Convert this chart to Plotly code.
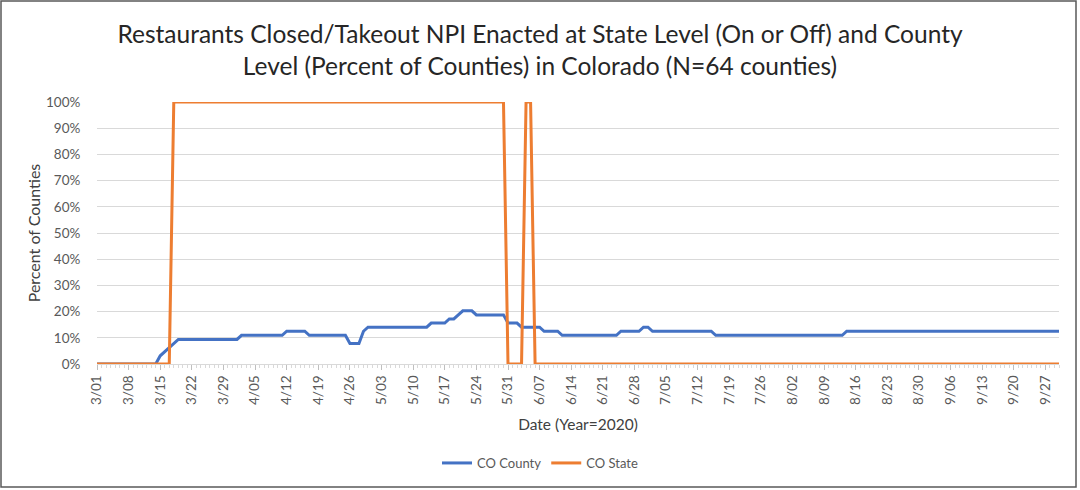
import pandas as pd
import plotly.graph_objects as go

N_COUNTIES = 64
start_date = "2020-03-01"
end_date = "2020-09-30"

# Number of counties (of 64) with the NPI enacted, one value per day, 3/01 .. 9/30
county_counts = [
    0, 0, 0, 0, 0, 0, 0,
    0, 0, 0, 0, 0, 0, 0,
    2, 3, 4, 5, 6, 6, 6,
    6, 6, 6, 6, 6, 6, 6,
    6, 6, 6, 6, 7, 7, 7,
    7, 7, 7, 7, 7, 7, 7,
    8, 8, 8, 8, 8, 7, 7,
    7, 7, 7, 7, 7, 7, 7,
    5, 5, 5, 8, 9, 9, 9,
    9, 9, 9, 9, 9, 9, 9,
    9, 9, 9, 9, 10, 10, 10,
    10, 11, 11, 12, 13, 13, 13,
    12, 12, 12, 12, 12, 12, 12,
    10, 10, 10, 9, 9, 9, 9,
    9, 8, 8, 8, 8, 7, 7,
    7, 7, 7, 7, 7, 7, 7,
    7, 7, 7, 7, 8, 8, 8,
    8, 8, 9, 9, 8, 8, 8,
    8, 8, 8, 8, 8, 8, 8,
    8, 8, 8, 8, 7, 7, 7,
    7, 7, 7, 7, 7, 7, 7,
    7, 7, 7, 7, 7, 7, 7,
    7, 7, 7, 7, 7, 7, 7,
    7, 7, 7, 7, 7, 8, 8,
    8, 8, 8, 8, 8, 8, 8,
    8, 8, 8, 8, 8, 8, 8,
    8, 8, 8, 8, 8, 8, 8,
    8, 8, 8, 8, 8, 8, 8,
    8, 8, 8, 8, 8, 8, 8,
    8, 8, 8, 8, 8, 8, 8,
    8, 8, 8, 8,
]

# State-level NPI (1 = on, 0 = off), one value per day, 3/01 .. 9/30
state_on = [
    0, 0, 0, 0, 0, 0, 0,
    0, 0, 0, 0, 0, 0, 0,
    0, 0, 0, 1, 1, 1, 1,
    1, 1, 1, 1, 1, 1, 1,
    1, 1, 1, 1, 1, 1, 1,
    1, 1, 1, 1, 1, 1, 1,
    1, 1, 1, 1, 1, 1, 1,
    1, 1, 1, 1, 1, 1, 1,
    1, 1, 1, 1, 1, 1, 1,
    1, 1, 1, 1, 1, 1, 1,
    1, 1, 1, 1, 1, 1, 1,
    1, 1, 1, 1, 1, 1, 1,
    1, 1, 1, 1, 1, 1, 1,
    0, 0, 0, 0, 1, 1, 0,
    0, 0, 0, 0, 0, 0, 0,
    0, 0, 0, 0, 0, 0, 0,
    0, 0, 0, 0, 0, 0, 0,
    0, 0, 0, 0, 0, 0, 0,
    0, 0, 0, 0, 0, 0, 0,
    0, 0, 0, 0, 0, 0, 0,
    0, 0, 0, 0, 0, 0, 0,
    0, 0, 0, 0, 0, 0, 0,
    0, 0, 0, 0, 0, 0, 0,
    0, 0, 0, 0, 0, 0, 0,
    0, 0, 0, 0, 0, 0, 0,
    0, 0, 0, 0, 0, 0, 0,
    0, 0, 0, 0, 0, 0, 0,
    0, 0, 0, 0, 0, 0, 0,
    0, 0, 0, 0, 0, 0, 0,
    0, 0, 0, 0, 0, 0, 0,
    0, 0, 0, 0,
]

dates = pd.date_range(start_date, end_date, freq="D")
county_pct = [c / N_COUNTIES for c in county_counts]

FONT = "Lato"
DAY_MS = 86400000

fig = go.Figure()
fig.add_trace(go.Scatter(
    x=dates, y=county_pct, mode="lines", name="CO County",
    line=dict(color="#4472C4", width=3),
))
fig.add_trace(go.Scatter(
    x=dates, y=state_on, mode="lines", name="CO State",
    line=dict(color="#ED7D31", width=3),
))

W, H = 1080, 490
L, R, T, B = 97, 21, 102, 126
pw, ph = W - L - R, H - T - B


def px_x(px):
    return (px - L) / pw


def px_y(py):
    return (H - B - py) / ph


fig.update_layout(
    width=W, height=H,
    margin=dict(l=L, r=R, t=T, b=B),
    paper_bgcolor="white", plot_bgcolor="white",
    font=dict(family=FONT, color="#595959", size=13),
    title=dict(
        text="Restaurants Closed/Takeout NPI Enacted at State Level (On or Off) and County<br>"
             "Level (Percent of Counties) in Colorado (N=64 counties)",
        x=0.5, xref="container", xanchor="center",
        y=1 - 43 / H, yref="container", yanchor="top",
        font=dict(family=FONT, size=24.5, color="#262626"),
    ),
    showlegend=True,
    legend=dict(
        orientation="h", xref="container", yref="container",
        x=0.5, xanchor="center", y=1 - 463 / H, yanchor="middle",
        font=dict(family=FONT, size=13, color="#595959"),
        itemwidth=30,
    ),
    xaxis=dict(
        type="date",
        range=[start_date, end_date],
        tick0=start_date, dtick=7 * DAY_MS,
        tickformat="%-m/%d", tickangle=-90,
        ticks="outside", ticklen=5, tickcolor="#bfbfbf",
        minor=dict(dtick=DAY_MS, ticks="outside", ticklen=3, tickcolor="#d9d9d9"),
        showgrid=False, zeroline=False,
        showline=True, linecolor="#d9d9d9", linewidth=1,
        tickfont=dict(family=FONT, size=13.5, color="#595959"),
        title=dict(text="Date (Year=2020)", standoff=15,
                   font=dict(family=FONT, size=15.5, color="#404040")),
    ),
    yaxis=dict(
        range=[0, 1], dtick=0.1, tickformat=".0%",
        showgrid=True, gridcolor="#d9d9d9", gridwidth=1,
        zeroline=False, showline=False,
        ticks="outside", ticklen=13, tickcolor="rgba(0,0,0,0)",
        tickfont=dict(family=FONT, size=13.5, color="#595959"),
        title=dict(text="Percent of Counties", standoff=1,
                   font=dict(family=FONT, size=16, color="#404040")),
    ),
    shapes=[dict(
        type="rect", xref="paper", yref="paper",
        x0=px_x(1), x1=px_x(1076), y0=px_y(487), y1=px_y(1),
        line=dict(color="#595959", width=1.5), fillcolor="rgba(0,0,0,0)",
        layer="below",
    )],
)

fig.write_html(
    "out.html",
    config={"displayModeBar": False},
    post_script="document.body.style.margin='0';",
)
